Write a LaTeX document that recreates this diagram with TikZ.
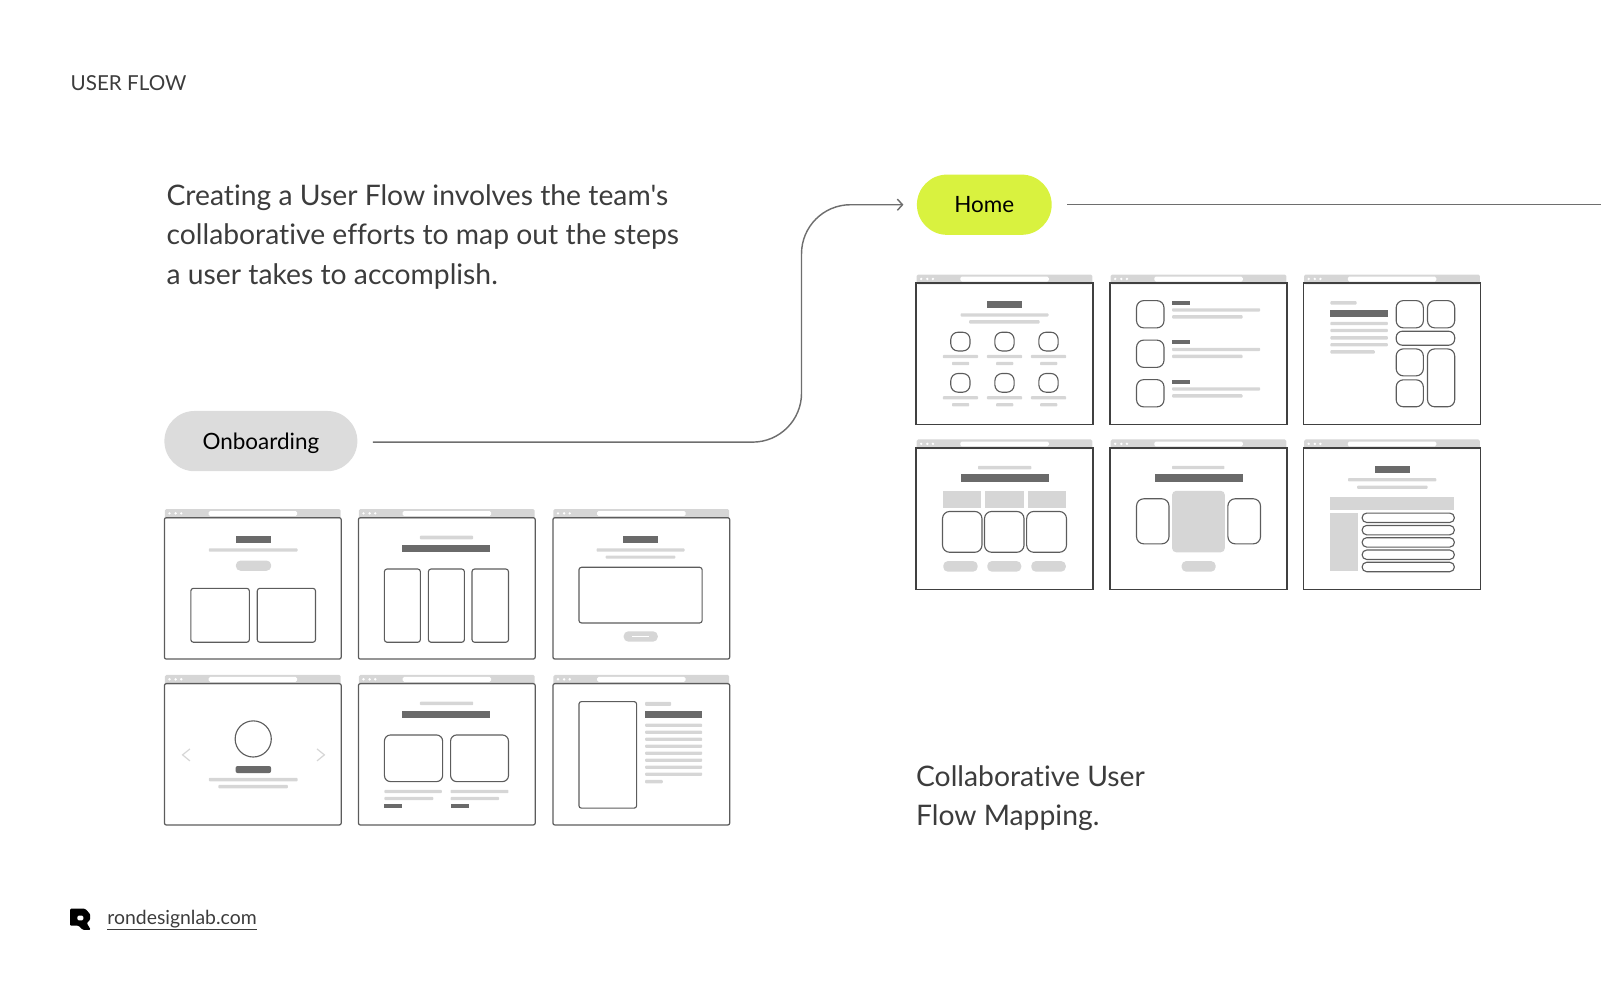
\documentclass[tikz,border=0pt]{standalone}
\usepackage{fontspec}
\setmainfont{Lato}
\newfontfamily\bodyfont[Ligatures=NoCommon]{Lato}
\usepackage{tikz}
\usetikzlibrary{arrows.meta}
\definecolor{ink}{HTML}{3C3C3C}
\definecolor{wire}{HTML}{5C5C5C}
\definecolor{wiredark}{HTML}{404040}
\definecolor{linegray}{HTML}{6E6E6E}
\definecolor{barlight}{HTML}{D6D6D6}
\definecolor{bardark}{HTML}{6A6A6A}
\definecolor{pillgray}{HTML}{DCDCDC}
\definecolor{pilllime}{HTML}{D9F23F}
\newcommand{\browserframe}[1]{
\fill[barlight, rounded corners=1.5pt] (0.5,-8.5) rectangle (172.7,1);
\fill[white, rounded corners=1.5pt] (43.3,-6.5) rectangle (130,-1.7);
\foreach \dotx in {5,11,16.5} \fill[white] (\dotx,-4.2) circle (1.3pt);
\draw[#1] (0,0) rectangle (173.2,138.5);
}
\begin{document}
\begin{tikzpicture}[x=1pt, y=-1pt]
\tikzset{winround/.style={draw=wire, line width=1.2pt, rounded corners=2pt}}
\tikzset{winsharp/.style={draw=wiredark, line width=1.5pt}}
\tikzset{wirebox/.style={draw=wire, line width=1.1pt, rounded corners=2.5pt}}
\tikzset{wireicon/.style={draw=wire, line width=1.1pt, rounded corners=7pt}}
\tikzset{wirepill/.style={draw=wire, line width=1.1pt, rounded corners=4.5pt}}
\tikzset{lightbar/.style={fill=barlight, rounded corners=0.8pt}}
\tikzset{darkbar/.style={fill=bardark}}
\tikzset{button/.style={fill=barlight, rounded corners=4.5pt}}
\tikzset{pill/.style={rounded corners=29.5pt, minimum height=59pt, inner sep=0pt, text=black, text height=16pt, text depth=0pt, font=\bodyfont\fontsize{22}{26}\selectfont}}
\tikzset{flowline/.style={draw=linegray, line width=1.4pt}}
\tikzset{bodytext/.style={anchor=base west, inner sep=0pt, text=ink, font=\bodyfont\fontsize{27.7}{39}\selectfont}}
\useasboundingbox (0,0) rectangle (1568,980.4);

\node[anchor=base west, inner sep=0pt, text=ink, font=\bodyfont\fontsize{20.2}{24}\selectfont] (title) at (69,88.5) {USER FLOW};
\node[bodytext] (introa) at (163,200.8) {Creating a User Flow involves the team's};
\node[bodytext] (introb) at (163,239.8) {collaborative efforts to map out the steps};
\node[bodytext] (introc) at (163,278.8) {a user takes to accomplish.};
\node[bodytext] (mappinga) at (897,769.8) {Collaborative User};
\node[bodytext] (mappingb) at (897,808.8) {Flow Mapping.};

\node[pill, fill=pillgray, minimum width=189pt] (onboarding) at (255.5,432) {Onboarding};
\node[pill, fill=pilllime, minimum width=132pt] (home) at (964,200.5) {Home};
\coordinate (bend) at (785,300);
\coordinate (homeout) at (1568,200);
\draw[flowline, rounded corners=48pt, shorten <=15pt, shorten >=13pt, -{Straight Barb[length=5pt, width=11pt]}] ([yshift=-1pt]onboarding.east) -| (bend) |- (home.west);
\draw[flowline, shorten <=15pt] (home.east |- homeout) -- (homeout);

% onboarding screens
\begin{scope}[shift={(161,507)}]
\browserframe{winround}
\fill[darkbar] (69.7,17.6) rectangle (104.5,24.8);
\fill[lightbar] (43.5,30) rectangle (130.4,33.3);
\fill[button] (70,42) rectangle (104.6,52);
\draw[wirebox] (25.9,69.2) rectangle (83.2,122);
\draw[wirebox] (91,69.2) rectangle (148,122);
\end{scope}
\begin{scope}[shift={(351,507)}]
\browserframe{winround}
\fill[lightbar] (60.3,17.6) rectangle (112.4,21.2);
\fill[darkbar] (43,26.4) rectangle (129.3,33.6);
\draw[wirebox] (25.5,50.3) rectangle (60.7,122);
\draw[wirebox] (68.6,50.3) rectangle (103.8,122);
\draw[wirebox] (111.3,50.3) rectangle (147,122);
\end{scope}
\begin{scope}[shift={(541.5,507)}]
\browserframe{winround}
\fill[darkbar] (68.6,17.6) rectangle (103,24.8);
\fill[lightbar] (42.7,30) rectangle (129,33.3);
\fill[lightbar] (51.7,37.2) rectangle (120,40.1);
\draw[wirebox] (25.5,48.6) rectangle (146.2,103.1);
\fill[button] (69.3,111.3) rectangle (102.7,121.4);
\fill[white] (77,116) rectangle (94,116.7);
\end{scope}
\begin{scope}[shift={(161,669.5)}]
\browserframe{winround}
\draw[wire, line width=1.1pt] (87,54.2) circle (17.7pt);
\draw[barlight, line width=1.2pt] (25,64) -- (17.8,69.8) -- (25,75.7);
\draw[barlight, line width=1.2pt] (149.5,64) -- (156.7,69.8) -- (149.5,75.7);
\fill[bardark, rounded corners=2pt] (69.7,80.7) rectangle (104.5,87.6);
\fill[lightbar] (43.5,92.3) rectangle (130.4,95.7);
\fill[lightbar] (52.8,99.2) rectangle (121,102.5);
\end{scope}
\begin{scope}[shift={(351,669.5)}]
\browserframe{winround}
\fill[lightbar] (60.3,17.6) rectangle (112.4,21.2);
\fill[darkbar] (43,26.4) rectangle (129.3,33.6);
\draw[wirebox, rounded corners=6pt] (25.5,50.3) rectangle (82.5,96);
\draw[wirebox, rounded corners=6pt] (90.3,50.3) rectangle (147,96);
\fill[lightbar] (25.5,104) rectangle (81.7,107.3);
\fill[lightbar] (25.5,111) rectangle (73.4,114.2);
\fill[darkbar] (25.5,118) rectangle (43,121.5);
\fill[lightbar] (90.3,104) rectangle (147,107.3);
\fill[lightbar] (90.3,111) rectangle (137.8,114.2);
\fill[darkbar] (90.3,118) rectangle (107.9,121.5);
\end{scope}
\begin{scope}[shift={(541.5,669.5)}]
\browserframe{winround}
\draw[wirebox] (25.5,17.6) rectangle (82,122);
\fill[lightbar] (90.3,18) rectangle (115.8,21.7);
\fill[darkbar] (90.3,27) rectangle (146.2,34);
\foreach \liney in {40.8,47.65,54.5,61.35,68.2,75.05,81.9,88.75}
\fill[lightbar] (90.3,\liney-1.6) rectangle (146.2,\liney+1.6);
\fill[lightbar] (90.3,94.4) rectangle (107.6,97.6);
\end{scope}

% home screens
\begin{scope}[shift={(897.2,277.4)}]
\browserframe{winsharp}
\fill[darkbar] (69.3,17.3) rectangle (104.2,24.5);
\fill[lightbar] (43.5,29.4) rectangle (129.7,32.6);
\fill[lightbar] (52,36.2) rectangle (121,39.5);
\foreach \colx in {0,43.2,86.3} {
\foreach \rowy in {0,40.4} {
\draw[wireicon] (34+\colx,48+\rowy) rectangle (52.8+\colx,66.3+\rowy);
\fill[lightbar] (26.2+\colx,70.2+\rowy) rectangle (60.7+\colx,73.4+\rowy);
\fill[lightbar] (35.2+\colx,77+\rowy) rectangle (52+\colx,80.3+\rowy);
}
}
\end{scope}
\begin{scope}[shift={(1087.2,277.4)}]
\browserframe{winsharp}
\foreach \rowy in {0,38.7,77.4} {
\draw[wireicon] (25.9,17+\rowy) rectangle (52.8,43.7+\rowy);
\fill[darkbar] (60.7,17.3+\rowy) rectangle (78,20.9+\rowy);
\fill[lightbar] (60.7,24.5+\rowy) rectangle (147,27.7+\rowy);
\fill[lightbar] (60.7,31.3+\rowy) rectangle (129.7,34.6+\rowy);
}
\end{scope}
\begin{scope}[shift={(1276.7,277.4)}]
\browserframe{winsharp}
\fill[lightbar] (26.2,17.6) rectangle (52,20.9);
\fill[darkbar] (26.2,26) rectangle (82.5,33);
\foreach \liney in {37.9,44.7,51.9,58.7}
\fill[lightbar] (26.2,\liney) rectangle (82.5,\liney+3.2);
\fill[lightbar] (26.2,65.6) rectangle (69.7,68.9);
\draw[wireicon] (90.7,17) rectangle (117.3,43.7);
\draw[wireicon] (121.4,17) rectangle (148,43.7);
\draw[wireicon, rounded corners=6pt] (90.7,47) rectangle (148,60.7);
\draw[wireicon] (90.7,64.3) rectangle (117.3,90.7);
\draw[wireicon] (121.4,64.3) rectangle (148,121);
\draw[wireicon] (90.7,94.6) rectangle (117.3,121);
\end{scope}
\begin{scope}[shift={(897.2,438.9)}]
\browserframe{winsharp}
\fill[lightbar] (60.7,17.3) rectangle (112.8,20.9);
\fill[darkbar] (43.5,25.8) rectangle (129.7,33);
\fill[barlight] (26.2,41.8) rectangle (63.7,58.7);
\fill[barlight] (67.8,41.8) rectangle (105.7,58.7);
\fill[barlight] (109.4,41.8) rectangle (147.3,58.7);
\draw[wireicon] (25.9,62) rectangle (64.5,102);
\draw[wireicon] (67,62) rectangle (105.7,102);
\draw[wireicon] (108.3,62) rectangle (147.3,102);
\fill[button] (26.6,110.6) rectangle (60.3,121);
\fill[button] (69.7,110.6) rectangle (103,121);
\fill[button] (112.8,110.6) rectangle (146.6,121);
\end{scope}
\begin{scope}[shift={(1087.2,438.9)}]
\browserframe{winsharp}
\fill[lightbar] (60.7,17.3) rectangle (112,20.6);
\fill[darkbar] (43.5,25.8) rectangle (129.7,33);
\fill[barlight, rounded corners=4pt] (60.7,41.8) rectangle (112.4,102);
\draw[wireicon] (25.9,49.6) rectangle (57.7,93.7);
\draw[wireicon] (115.4,49.6) rectangle (147.3,93.7);
\fill[button] (70,110.6) rectangle (103.4,121);
\end{scope}
\begin{scope}[shift={(1276.7,438.9)}]
\browserframe{winsharp}
\fill[darkbar] (69.7,17.3) rectangle (104.2,24.2);
\fill[lightbar] (43.5,29.4) rectangle (130,32.6);
\fill[lightbar] (52.5,36.6) rectangle (121.4,39.8);
\fill[barlight] (26.2,48.3) rectangle (147.7,60.4);
\fill[barlight] (26.2,64) rectangle (53.6,120.8);
\foreach \rowy in {63.6,75.7,87.7,99.8,111.8}
\draw[wirepill] (57.3,\rowy) rectangle (147.7,\rowy+9.2);
\end{scope}

\fill[black, even odd rule, rounded corners=1pt] (68.6,890) -- (83.3,890) -- (88.2,895) -- (88.2,901) -- (85,904) -- (88.8,910.6) -- (81,910.6) -- (77,906.6) -- (68.6,906.6) -- cycle (75.8,896.8) -- (81.6,896.8) -- (81.6,901.4) -- (75.8,901.4) -- cycle;
\node[anchor=base west, inner sep=0pt, text=ink, font=\bodyfont\fontsize{19}{22}\selectfont] (site) at (105,905.5) {\underline{rondesignlab.com}};
\end{tikzpicture}
\end{document}
